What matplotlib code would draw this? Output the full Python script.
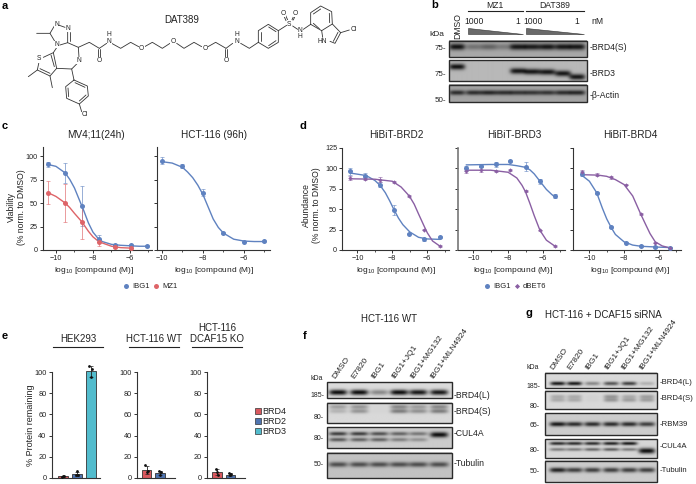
import numpy as np
import matplotlib
matplotlib.use('Agg')
import matplotlib.pyplot as plt
from matplotlib.patches import Polygon, Rectangle

plt.rcParams['font.family'] = ['Liberation Sans', 'DejaVu Sans']
plt.rcParams['mathtext.default'] = 'regular'
W, H = 696, 484
BLUE, RED, PURPLE = '#5f82c0', '#de6468', '#8a5fa3'
TXT = '#222222'

# ---------- panel c ----------
c1_x = [-10.43, -9.5, -8.6, -7.7, -6.8, -5.95, -5.1]
c1_ibg1 = [91, 82, 47, 12, 5, 5, 4]
c1_ibg1_err = [3, 11, 21, 4, 1, 1, 1]
c1_mz1 = [61, 50, 30, 8, 3, 2]
c1_mz1_err = [12, 20, 18, 4, 1, 1]
c1_fit_x = [-10.43, -10, -9.5, -9.25, -9, -8.75, -8.5, -8.25, -8, -7.75, -7.5, -7, -6.5, -6, -5.5, -5.1]
c1_fit_ibg1 = [91, 89, 82, 75, 66, 54, 42, 29, 19, 13, 9, 6, 5, 4.5, 4, 4]
c1_fit_x2 = [-10.43, -10, -9.5, -9.25, -9, -8.6, -8.25, -8, -7.75, -7.5, -7, -6.5, -5.95]
c1_fit_mz1 = [61, 57, 50, 45, 39, 30, 20, 14, 10, 7.5, 4, 2.5, 2]
c2_x = [-10, -9, -8, -7, -6, -5]
c2_ibg1 = [95, 89, 61, 18, 9, 9.5]
c2_ibg1_err = [4, 2, 4, 1, 1, 1]
c2_fit_x = [-10, -9.5, -9, -8.75, -8.5, -8.25, -8, -7.75, -7.5, -7.25, -7, -6.5, -6, -5.5, -5]
c2_fit = [94, 92.5, 88, 83, 77, 69, 59, 46, 33, 24, 18, 11.5, 9.5, 9, 9]

# ---------- panel d ----------
d1_x = [-10.4, -9.56, -8.7, -7.9, -7.03, -6.2, -5.3]
d1_ibg1 = [96, 91, 80, 49, 20, 13, 16]
d1_ibg1_err = [4, 3, 3, 6, 1, 2, 1]
d1_dbet = [88, 87, 86, 83, 66, 25, 5]
d1_dbet_err = [2, 2, 3, 1, 1, 1, 1]
d1_fit_x_i = [-10.4, -9.5, -9, -8.7, -8.4, -8.15, -7.9, -7.65, -7.4, -7, -6.5, -6, -5.3]
d1_fit_i = [94, 91, 85, 79, 70, 60, 49, 39, 31, 22, 15.5, 13.5, 13]
d1_fit_x_d = [-10.4, -9, -8, -7.5, -7.03, -6.75, -6.5, -6.2, -6, -5.7, -5.3]
d1_fit_d = [87, 86.5, 84, 77, 66, 56, 44, 30, 21, 11, 5]
d2_x = [-10.4, -9.58, -8.7, -7.87, -7, -6.17, -5.33]
d2_ibg1 = [100, 103, 105, 109, 102, 84, 66]
d2_ibg1_err = [3, 2, 3, 1, 5, 3, 3]
d2_dbet = [96, 98, 96, 98, 72, 24, 5]
d2_dbet_err = [2, 3, 1, 1, 1, 1, 1]
d2_fit_x_i = [-10.4, -9, -8, -7.5, -7, -6.75, -6.5, -6.17, -5.8, -5.5, -5.33]
d2_fit_i = [104, 104.5, 104.5, 103, 101, 98, 93, 84, 74, 68, 65]
d2_fit_x_d = [-10.4, -9, -8, -7.5, -7.2, -7, -6.75, -6.5, -6.17, -5.8, -5.33]
d2_fit_d = [97.5, 97.5, 95, 88, 79, 71, 57, 42, 24, 12, 5]
d3_x = [-10.42, -9.58, -8.73, -7.88, -7.04, -6.19, -5.35]
d3_ibg1 = [93, 70, 28, 9, 5, 3.5, 3]
d3_ibg1_err = [3, 1, 1, 1, 1, 1, 1]
d3_dbet = [95, 92, 89, 80, 44, 9, 3]
d3_dbet_err = [3, 2, 2, 1, 1, 1, 1]
d3_fit_x_i = [-10.42, -10, -9.58, -9.25, -9, -8.73, -8.5, -8, -7.5, -7, -6, -5.35]
d3_fit_i = [91, 84, 70, 51, 38, 27, 19, 10, 6, 4.5, 3.5, 3]
d3_fit_x_d = [-10.42, -9.5, -9, -8.5, -8, -7.5, -7.04, -6.75, -6.5, -6.2, -5.8, -5.35]
d3_fit_d = [92, 91.5, 90, 86, 80, 66, 44, 31, 20, 10, 5, 2.5]

# ---------- panel e ----------
e_names = ['BRD4', 'BRD2', 'BRD3']
e_colors = ['#d9585e', '#4f74b0', '#52bccd']
e1_vals = [1.5, 3.5, 101]
e1_err = [0.5, 1.5, 5]
e1_pts = [[1, 1.5, 2], [3, 3, 6], [106, 103, 96]]
e2_vals = [7.5, 4.5]
e2_err = [4, 1.5]
e2_pts = [[12.5, 6, 5], [6, 5, 3]]
e3_vals = [5.5, 3]
e3_err = [2.5, 1]
e3_pts = [[8, 3, 5], [4, 3.5, 3]]
e_ticks = [0, 20, 40, 60, 80, 100]

# ---------- blots (band strength per lane) ----------
b_lanes = [457.3, 474, 489, 504, 518.3, 532.7, 547.7, 563.3, 577.7]
b_brd4 = [.98, .35, .45, .3, .95, .92, .95, .95, .95]
b_brd3 = [.98, 0, 0, 0, .95, .95, .95, .95, .95]
b_brd3_y = [66.7, 67, 67, 67, 71, 71.7, 72, 73.5, 77]
b_actin = [.8, .8, .85, .8, .75, .75, .75, .8, .85]
f_lanes = [338.3, 359.3, 379.3, 399.3, 418.3, 439]
f_brd4l = [1, 1, .4, 1, .95, .95]
f_brd4s_a = [.28, .33, .02, .4, .3, .4]
f_brd4s_b = [.18, .33, .02, .45, .35, .45]
f_cul_a = [.75, .75, .65, .55, .45, 1]
f_cul_b = [.6, .55, .55, .4, .3, 0]
f_tub = [.65, .65, .65, .65, .65, .65]
g_lanes = [557.7, 574.3, 592.3, 611, 629, 646.7]
g_brd4l = [.95, .95, .4, .65, .75, .2]
g_brd4s_a = [.22, .22, .03, .32, .22, .28]
g_brd4s_b = [.22, .22, .03, .32, .28, .28]
g_rbm = [.95, .85, .85, .85, .85, .75]
g_cul_a = [.85, .85, .85, .9, .95, 0]
g_cul_b = [.45, .45, .55, .6, .45, 1]
g_tub = [.9, .75, .75, .75, .75, .75]
fg_labels = ['DMSO', 'E7820', 'IBG1', 'IBG1+JQ1', 'IBG1+MG132', 'IBG1+MLN4924']

fig = plt.figure(figsize=(W / 100, H / 100), dpi=100, facecolor='white')


def ax_px(l, r, t, b, xlim, ylim):
    a = fig.add_axes([l / W, 1 - b / H, (r - l) / W, (b - t) / H])
    a.set_xlim(*xlim)
    a.set_ylim(*ylim)
    a.patch.set_alpha(0)
    for s in ('top', 'right'):
        a.spines[s].set_visible(False)
    for s in ('left', 'bottom'):
        a.spines[s].set_linewidth(0.8)
        a.spines[s].set_color('#333333')
    a.tick_params(length=2.2, width=0.7, labelsize=5.2, pad=1.5, color='#333333', labelcolor=TXT)
    return a


def curve_panel(a, series, first=False, ylabel=None, yticks=None):
    for xs, ys, err, fx, fy, col, mk, ms in series:
        a.errorbar(xs, ys, yerr=err, fmt='none', ecolor=col, elinewidth=0.7, capsize=1.5,
                   capthick=0.6, alpha=0.65, clip_on=False, zorder=2)
        a.plot(fx, fy, color=col, lw=1.0, zorder=3, clip_on=False)
        a.plot(xs, ys, mk, color=col, ms=ms, mew=0, zorder=4, clip_on=False)
    a.set_xticks([-10, -8, -6])
    a.set_xticks([-9, -7, -5], minor=True)
    a.tick_params(which='minor', length=1.6, width=0.6, color='#333333')
    a.set_yticks(yticks)
    if not first:
        a.set_yticklabels([])


c_ticks = [0, 25, 50, 75, 100]
d_ticks = [0, 25, 50, 75, 100, 125]
a = ax_px(43, 152, 147, 250, (-10.70, -4.81), (0, 109.6))
curve_panel(a, [(c1_x, c1_ibg1, c1_ibg1_err, c1_fit_x, c1_fit_ibg1, BLUE, 'o', 3.6),
                (c1_x[:6], c1_mz1, c1_mz1_err, c1_fit_x2, c1_fit_mz1, RED, 'o', 3.6)], True, yticks=c_ticks)
a = ax_px(157, 270, 147, 250, (-10.24, -4.73), (0, 109.6))
curve_panel(a, [(c2_x, c2_ibg1, c2_ibg1_err, c2_fit_x, c2_fit, BLUE, 'o', 3.6)], yticks=c_ticks)
a = ax_px(342.3, 449, 147.7, 250, (-10.86, -4.76), (0, 125))
curve_panel(a, [(d1_x, d1_ibg1, d1_ibg1_err, d1_fit_x_i, d1_fit_i, BLUE, 'o', 3.6),
                (d1_x, d1_dbet, d1_dbet_err, d1_fit_x_d, d1_fit_d, PURPLE, 'D', 2.2)], True, yticks=d_ticks)
a = ax_px(457.7, 565, 147.7, 250, (-10.9, -4.73), (0, 125))
curve_panel(a, [(d2_x, d2_ibg1, d2_ibg1_err, d2_fit_x_i, d2_fit_i, BLUE, 'o', 3.6),
                (d2_x, d2_dbet, d2_dbet_err, d2_fit_x_d, d2_fit_d, PURPLE, 'D', 2.2)], yticks=d_ticks)
a.spines['left'].set_linewidth(1.2)
a.spines['left'].set_color('#777777')
a = ax_px(573.3, 680.7, 147.7, 250, (-10.93, -4.73), (0, 125))
curve_panel(a, [(d3_x, d3_ibg1, d3_ibg1_err, d3_fit_x_i, d3_fit_i, BLUE, 'o', 3.6),
                (d3_x, d3_dbet, d3_dbet_err, d3_fit_x_d, d3_fit_d, PURPLE, 'D', 2.2)], yticks=d_ticks)


def bar_panel(l, r, xlim, vals, err, pts):
    a = ax_px(l, r, 372.3, 477.7, xlim, (0, 100))
    xs = np.arange(len(vals))
    a.bar(xs, vals, width=0.72, color=e_colors[:len(vals)], edgecolor='#333333', linewidth=0.6, clip_on=False)
    a.errorbar(xs, vals, yerr=err, fmt='none', ecolor='#222222', elinewidth=0.6, capsize=1.2,
               capthick=0.5, clip_on=False)
    for i, p in enumerate(pts):
        off = [-0.1, 0.08, 0.0] if len(p) == 3 else [0] * len(p)
        a.plot(np.array([i] * len(p)) + off, p, 'o', color='#111111', ms=2, mew=0, clip_on=False, zorder=5)
    a.set_xticks([])
    a.set_yticks(e_ticks)
    a.tick_params(labelsize=5.3)
    return a


bar_panel(51.7, 100, (-0.847, 2.68), e1_vals, e1_err, e1_pts)
bar_panel(137.3, 175, (-0.69, 2.1), e2_vals, e2_err, e2_pts)
bar_panel(207.3, 245, (-0.73, 2.1), e3_vals, e3_err, e3_pts)

# overlay in pixel coordinates
ov = fig.add_axes([0, 0, 1, 1])
ov.set_xlim(0, W)
ov.set_ylim(H, 0)
ov.axis('off')
ov.patch.set_alpha(0)


def T(x, y, s, size=5.5, ha='center', va='center', **kw):
    kw.setdefault('color', TXT)
    ov.text(x, y, s, fontsize=size, ha=ha, va=va, **kw)


# panel letters
for lx, ly, ch in [(5, 6, 'a'), (435, 5, 'b'), (5, 126, 'c'), (303, 126, 'd'), (5, 336, 'e'), (305, 336, 'f'), (529, 313, 'g')]:
    T(lx, ly, ch, size=8, weight='bold', color='black')

# titles and labels for c, d
for cx, s in [(96, 'MV4;11(24h)'), (214, 'HCT-116 (96h)'), (396, 'HiBiT-BRD2'), (514, 'HiBiT-BRD3'), (630, 'HiBiT-BRD4')]:
    T(cx, 135, s, size=7.2)
xl = 'log$_{10}$ [compound (M)]'
for cx in (94, 214, 396, 513, 630):
    T(cx, 270, xl, size=6)
T(16.5, 207, 'Viability\n(% norm. to DMSO)', size=6.2, rotation=90, linespacing=1.05)
T(311.5, 205, 'Abundance\n(% norm. to DMSO)', size=6.2, rotation=90, linespacing=1.05)
ov.plot([126], [286], 'o', color=BLUE, ms=3.6, mew=0)
T(132, 286, 'IBG1', size=5.5, ha='left')
ov.plot([156], [286], 'o', color=RED, ms=3.6, mew=0)
T(162, 286, 'MZ1', size=5.5, ha='left')
ov.plot([487], [286], 'o', color=BLUE, ms=3.6, mew=0)
T(493, 286, 'IBG1', size=5.5, ha='left')
ov.plot([517], [286], 'D', color=PURPLE, ms=2.6, mew=0)
T(523, 286, 'dBET6', size=5.5, ha='left')

# e labels
T(78, 339, 'HEK293', size=7)
T(154.5, 339, 'HCT-116 WT', size=7)
T(217, 333.5, 'HCT-116\nDCAF15 KO', size=7, linespacing=1.05)
for x0, x1 in [(53, 103), (129, 179), (192, 242)]:
    ov.plot([x0, x1], [347.3, 347.3], color='#222222', lw=0.8)
T(30.5, 425, '% Protein remaining', size=6.5, rotation=90)
for i, (n, c) in enumerate(zip(e_names, e_colors)):
    y = 411 + 10 * i
    ov.add_patch(Rectangle((255, y - 3), 5.5, 6, fc=c, ec='#333333', lw=0.5))
    T(262.5, y, n, size=6.5, ha='left')


def blot(x0, x1, y0, y1, bg, bands, lw=1.0, wpx=7.5):
    xx, yy = np.meshgrid(np.linspace(x0, x1, int((x1 - x0) * 3)), np.linspace(y0, y1, int((y1 - y0) * 3)))
    img = np.zeros_like(xx)
    for cx, cy, amp, hgt in bands:
        img += amp * np.exp(-np.abs((xx - cx) / wpx) ** 4) * np.exp(-((yy - cy) / hgt) ** 2)
    img = bg * (1 - np.clip(img, 0, 1)) + 0.06 * np.clip(img, 0, 1)
    ov.imshow(img, extent=(x0, x1, y1, y0), cmap='gray', vmin=0, vmax=1, aspect='auto', zorder=1,
              interpolation='bilinear')
    ov.add_patch(Rectangle((x0, y0), x1 - x0, y1 - y0, fc='none', ec='#2a2a2a', lw=lw, zorder=2))


def bands(lanes, y, amps, h):
    ys = y if isinstance(y, list) else [y] * len(lanes)
    return [(lx, ly, am, h) for lx, ly, am in zip(lanes, ys, amps) if am > 0]


# panel b
blot(449.3, 587.3, 40.7, 57.3, 0.66, bands(b_lanes, 47.3, b_brd4, 3.2), wpx=8)
blot(449.3, 587.3, 60, 81, 0.72, bands(b_lanes, b_brd3_y, b_brd3, 3.0), wpx=8)
blot(449.3, 587.3, 85, 102.3, 0.64, bands(b_lanes, 93.3, b_actin, 2.4), wpx=8)
T(437, 35, 'kDa', size=6)
T(446, 49, '75-', size=5.8, ha='right')
T(446, 75, '75-', size=5.8, ha='right')
T(446, 100, '50-', size=5.8, ha='right')
T(590, 48, '-BRD4(S)', size=6.2, ha='left')
T(590, 74, '-BRD3', size=6.2, ha='left')
T(590, 95, '-β-Actin', size=6.2, ha='left')
T(495, 6, 'MZ1', size=6.2)
T(555, 6, 'DAT389', size=6.2)
ov.plot([468, 522.7], [11, 11], color='#222222', lw=0.8)
ov.plot([526, 584], [11, 11], color='#222222', lw=0.8)
T(474, 22, '1000', size=6.2)
T(518, 22, '1', size=6.2)
T(533, 22, '1000', size=6.2)
T(577, 22, '1', size=6.2)
T(597, 22, 'nM', size=6.2)
T(458, 26, 'DMSO', size=6.2, rotation=90)
ov.add_patch(Polygon([(468.3, 27.7), (468.3, 34), (522.7, 34)], fc='#6a6a6a', ec='#333333', lw=0.4))
ov.add_patch(Polygon([(526, 27.7), (526, 34), (584, 34)], fc='#6a6a6a', ec='#333333', lw=0.4))

# panel f
T(389, 319, 'HCT-116 WT', size=7)
blot(327.3, 451.7, 382.3, 398.3, 0.86, bands(f_lanes, 392.7, f_brd4l, 2.8), wpx=9)
blot(327.3, 451.7, 402.7, 423.3, 0.85, bands(f_lanes, 407.3, f_brd4s_a, 2.2) + bands(f_lanes, 411.7, f_brd4s_b, 2.2), wpx=9)
blot(327.3, 451.7, 427.3, 448.3, 0.8, bands(f_lanes[:5], 434, f_cul_a, 2.0) + bands(f_lanes, 440, f_cul_b, 2.0)
     + [(f_lanes[5], 435, f_cul_a[5], 2.8)], wpx=9)
blot(327.3, 451.7, 452.7, 478.3, 0.76, bands(f_lanes, 465, f_tub, 2.6), wpx=9.5)
T(317, 378, 'kDa', size=5)
for y, s in [(395.7, '185-'), (417.7, '80-'), (438, '80-'), (465, '50-')]:
    T(324, y, s, size=5, ha='right')
for y, s in [(395, '-BRD4(L)'), (411, '-BRD4(S)'), (434, '-CUL4A'), (463, '-Tubulin')]:
    T(454, y, s, size=6.2, ha='left')
for x, s in zip([336.7, 356, 376, 396.7, 415, 435], fg_labels):
    T(x, 380, s, size=6, ha='left', va='bottom', rotation=55, rotation_mode='anchor')

# panel g
T(603, 315, 'HCT-116 + DCAF15 siRNA', size=7)
blot(545, 656.7, 372.7, 388.3, 0.85, bands(g_lanes, 384, g_brd4l, 1.9), wpx=7.5)
blot(545, 656.7, 391, 409.3, 0.85, bands(g_lanes, 397.3, g_brd4s_a, 2.0) + bands(g_lanes, 400.7, g_brd4s_b, 2.0), wpx=7.5)
blot(545, 656.7, 413.3, 435, 0.8, bands(g_lanes, 424.3, g_rbm, 2.3), wpx=8.2)
blot(545, 656.7, 439, 457.7, 0.84, bands(g_lanes[:5], 443.3, g_cul_a, 1.7) + bands(g_lanes[:5], 449.3, g_cul_b[:5], 1.6)
     + [(g_lanes[5], 450.7, g_cul_b[5], 2.8)], wpx=8.2)
blot(545, 656.7, 461, 482.3, 0.8, bands(g_lanes, 470.7, g_tub, 2.4), wpx=8.2)
T(532.7, 367.7, 'kDa', size=5)
for y, s in [(387, '185-'), (407, '80-'), (425.7, '65-'), (450.7, '80-'), (471.7, '50-')]:
    T(540, y, s, size=5, ha='right')
for y, s in [(383, '-BRD4(L)'), (399, '-BRD4(S)'), (424, '-RBM39'), (446, '-CUL4A'), (470, '-Tubulin')]:
    T(660, y, s, size=5.6, ha='left')
for x, s in zip([555, 571.7, 590, 609, 626, 644], fg_labels):
    T(x, 370.7, s, size=6, ha='left', va='bottom', rotation=55, rotation_mode='anchor')

# panel a: chemical structure (zoomed-crop units, 3 per pixel)
paths = [
    [(110, 100), (150, 100), (163, 78)], [(178, 76), (195, 82)], [(203, 92), (203, 128), (180, 135)],
    [(209, 96), (209, 122)], [(165, 125), (150, 100)], [(170, 143), (160, 158), (130, 172)],
    [(160, 158), (170, 205), (150, 228), (112, 210), (117, 186)], [(112, 210), (85, 230)], [(150, 228), (157, 263)],
    [(153, 165), (163, 200)], [(150, 220), (120, 206)],
    [(170, 205), (215, 207), (232, 190)], [(237, 172), (235, 142), (203, 128)], [(235, 142), (268, 127), (298, 145)],
    [(294, 148), (294, 172)], [(301, 148), (301, 172)], [(298, 145), (320, 130)],
    [(335, 130), (362, 145), (392, 127), (416, 140)], [(434, 140), (457, 127), (487, 145), (510, 130)],
    [(530, 130), (552, 145), (582, 127), (605, 140)], [(624, 140), (647, 127), (678, 145)],
    [(675, 148), (675, 172)], [(682, 148), (682, 172)], [(678, 145), (698, 130)], [(722, 130), (748, 145), (775, 127)],
    [(775, 127), (775, 92), (805, 73), (835, 92), (835, 127), (805, 145), (775, 127)],
    [(782, 122), (782, 97)], [(806, 81), (828, 95)], [(828, 122), (806, 137)],
    [(835, 92), (860, 76)], [(858, 62), (851, 46)], [(863, 60), (856, 44)], [(875, 62), (882, 46)], [(880, 60), (887, 44)],
    [(878, 78), (893, 88)], [(910, 88), (932, 73)],
    [(932, 73), (932, 38), (962, 18), (995, 35), (997, 72), (965, 92), (932, 73)],
    [(940, 42), (962, 27)], [(988, 40), (989, 68)], [(958, 86), (940, 70)],
    [(997, 72), (1022, 98), (1005, 130), (990, 124)], [(1014, 97), (1000, 124)], [(965, 92), (968, 112)], [(1022, 98), (1048, 90)],
    [(215, 207), (222, 240), (262, 258), (265, 288), (238, 312), (200, 295), (197, 260), (222, 240)],
    [(225, 248), (255, 262)], [(258, 285), (238, 303)], [(206, 290), (204, 264)], [(238, 312), (245, 335)],
]
for p in paths:
    xs, ys = zip(*p)
    ov.plot(np.array(xs) / 3, np.array(ys) / 3, color='#333333', lw=0.6, solid_capstyle='round', zorder=3)
atoms = [(170, 75, 'N'), (205, 85, 'N'), (171, 133, 'N'), (118, 177, 'S'), (237, 182, 'N'), (297, 182, 'O'),
         (328, 114, 'H\nN'), (425, 146, 'O'), (520, 125, 'O'), (615, 146, 'O'), (680, 182, 'O'),
         (710, 114, 'H\nN'), (868, 72, 'S'), (850, 40, 'O'), (887, 40, 'O'), (901, 101, 'N\nH'),
         (968, 125, 'HN'), (1061, 89, 'Cl'), (255, 345, 'Cl')]
for ax_, ay_, s in atoms:
    T(ax_ / 3, ay_ / 3, s, size=4.8, zorder=4, linespacing=0.85,
      bbox=dict(fc='white', ec='none', pad=0.2))
T(182, 20, 'DAT389', size=7)

fig.savefig('out.png', dpi=100, facecolor='white')
